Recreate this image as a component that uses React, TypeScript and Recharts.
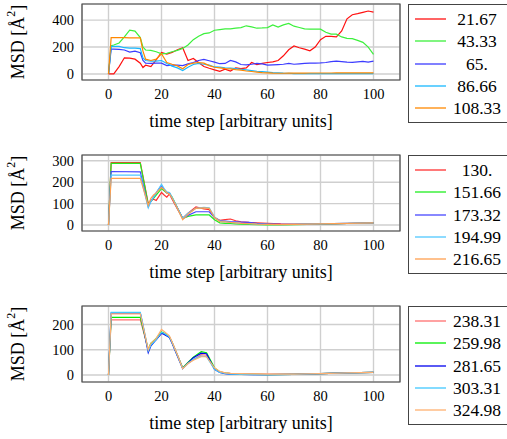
import React from "react";
import {
  LineChart, Line, XAxis, YAxis, CartesianGrid,
  ReferenceArea, Legend, Label,
} from "recharts";

const FONT = "Liberation Serif";

// ---- panel 1 ----
const steps1 = [0, 1, 2, 4, 6, 8, 10, 12, 13, 14, 16, 18, 20, 22, 24, 26, 28, 30, 32, 34, 36, 38, 40, 42, 44, 46, 48, 50, 52, 54, 56, 58, 60, 62, 64, 66, 68, 70, 72, 74, 76, 78, 80, 82, 84, 86, 88, 90, 92, 94, 96, 98, 100];
const red1 = [0, 0, 0, 55, 120, 118, 110, 80, 48, 65, 55, 105, 160, 148, 160, 180, 195, 100, 115, 85, 55, 42, 30, 20, 35, 22, 45, 40, 45, 85, 70, 78, 85, 90, 100, 135, 180, 208, 195, 185, 172, 200, 255, 280, 280, 275, 320, 410, 440, 448, 458, 468, 460];
const green1 = [0, 210, 215, 230, 275, 325, 318, 270, 200, 178, 175, 165, 150, 153, 165, 175, 190, 215, 255, 280, 300, 305, 325, 330, 335, 335, 340, 345, 358, 350, 340, 342, 345, 365, 348, 365, 375, 355, 345, 335, 333, 333, 333, 310, 296, 296, 275, 265, 262, 250, 235, 200, 145];
const blue1 = [0, 185, 185, 182, 178, 162, 170, 158, 100, 80, 78, 80, 80, 62, 66, 65, 62, 75, 85, 100, 108, 98, 88, 76, 78, 100, 90, 70, 68, 72, 78, 75, 65, 68, 70, 72, 78, 72, 75, 78, 80, 80, 82, 85, 92, 95, 92, 88, 86, 90, 93, 88, 95];
const cyan1 = [0, 205, 205, 205, 195, 192, 192, 188, 120, 100, 95, 95, 100, 78, 58, 45, 25, 50, 70, 78, 72, 65, 52, 50, 46, 44, 40, 35, 30, 25, 20, 17, 14, 10, 8, 6, 5, 3, 2, 2, 2, 2, 2, 2, 2, 2, 2, 2, 2, 3, 3, 3, 3];
const orange1 = [0, 270, 270, 270, 270, 268, 268, 268, 170, 110, 100, 110, 150, 85, 72, 60, 38, 70, 80, 85, 80, 62, 50, 45, 40, 37, 32, 28, 22, 18, 14, 10, 8, 6, 5, 5, 6, 6, 6, 6, 7, 7, 7, 7, 7, 8, 8, 8, 8, 8, 8, 8, 8];
const labels1 = ["21.67", "43.33", "65.", "86.66", "108.33"];
const colors1 = ["#ff1010", "#3cf03c", "#3c3cff", "#18b8ff", "#ff8800"];

// ---- panel 2 ----
const steps2 = [0, 1, 12, 13, 15, 16, 17, 18, 20, 21, 22, 23, 24, 26, 28, 30, 33, 36, 38, 40, 42, 44, 46, 48, 50, 53, 56, 60, 65, 70, 80, 90, 100];
const red2 = [0, 292, 292, 228, 100, 115, 120, 115, 152, 140, 130, 145, 120, 75, 32, 55, 85, 75, 72, 35, 22, 25, 28, 20, 15, 12, 10, 8, 5, 4, 4, 7, 10];
const green2 = [0, 288, 288, 224, 95, 110, 125, 140, 170, 160, 150, 148, 130, 80, 30, 40, 47, 48, 47, 25, 10, 8, 7, 5, 4, 3, 2, 1, 1, 2, 4, 7, 10];
const blue2 = [0, 250, 248, 193, 85, 110, 130, 150, 185, 165, 150, 150, 125, 80, 30, 45, 62, 62, 62, 35, 20, 18, 16, 15, 14, 12, 8, 5, 3, 3, 5, 8, 10];
const cyan2 = [0, 233, 233, 182, 80, 110, 130, 150, 190, 170, 155, 152, 130, 80, 32, 55, 78, 82, 80, 38, 18, 15, 12, 10, 8, 6, 4, 3, 2, 3, 5, 8, 10];
const orange2 = [0, 218, 218, 176, 92, 125, 140, 150, 175, 165, 150, 145, 125, 78, 25, 50, 78, 80, 78, 35, 16, 15, 12, 10, 8, 6, 4, 3, 2, 3, 5, 8, 10];
const labels2 = ["130.", "151.66", "173.32", "194.99", "216.65"];
const colors2 = ["#ff3030", "#20ee20", "#4848ff", "#50c8ff", "#ffa050"];

// ---- panel 3 ----
const steps3 = [0, 1, 12, 13, 15, 16, 18, 20, 21, 23, 24, 26, 28, 30, 32, 35, 37, 40, 42, 44, 46, 50, 55, 60, 70, 80, 90, 100];
const red3 = [0, 218, 218, 180, 100, 125, 140, 165, 165, 150, 130, 80, 28, 45, 60, 80, 78, 25, 12, 8, 6, 5, 4, 3, 3, 5, 8, 10];
const green3 = [0, 228, 228, 185, 100, 125, 145, 170, 165, 150, 128, 78, 28, 50, 70, 92, 88, 28, 12, 7, 5, 3, 2, 1, 2, 5, 8, 10];
const blue3 = [0, 245, 245, 195, 88, 115, 140, 165, 160, 148, 125, 75, 25, 48, 68, 86, 84, 22, 10, 5, 3, 2, 1, 1, 2, 5, 8, 10];
const cyan3 = [0, 248, 248, 200, 95, 118, 140, 168, 165, 150, 128, 78, 26, 45, 62, 75, 72, 22, 10, 6, 3, 2, 1, 1, 2, 5, 8, 10];
const orange3 = [0, 242, 242, 195, 100, 125, 145, 180, 172, 155, 130, 80, 25, 45, 58, 72, 72, 28, 14, 8, 6, 5, 4, 3, 3, 5, 8, 10];
const labels3 = ["238.31", "259.98", "281.65", "303.31", "324.98"];
const colors3 = ["#ff7070", "#00ee00", "#0000ee", "#40c8ff", "#ffb070"];

const xTicks = [0, 20, 40, 60, 80, 100];

const panels = [
  { steps: steps1, series: [red1, green1, blue1, cyan1, orange1], labels: labels1, colors: colors1, yDomain: [-45, 520], yTicks: [0, 200, 400] },
  { steps: steps2, series: [red2, green2, blue2, cyan2, orange2], labels: labels2, colors: colors2, yDomain: [-28, 327], yTicks: [0, 100, 200, 300] },
  { steps: steps3, series: [red3, green3, blue3, cyan3, orange3], labels: labels3, colors: colors3, yDomain: [-28, 273], yTicks: [0, 100, 200] },
];

const tickStyle = { fill: "#000", fontSize: 14.5, fontFamily: FONT, style: { fontFamily: FONT } };

function YTitle() {
  const cx = 18, cy = 42;
  return (
    <text x={cx} y={cy} transform={`rotate(-90 ${cx} ${cy})`} textAnchor="middle"
      dominantBaseline="central" fontSize={18} fill="#000" style={{ fontFamily: FONT }}>
      MSD [Å<tspan dy={-7} fontSize={12}>2</tspan><tspan dy={7}>]</tspan>
    </text>
  );
}

function XTitle() {
  return (
    <text x={241} y={127} textAnchor="middle" fontSize={18} fill="#000" style={{ fontFamily: FONT }}>
      time step [arbitrary units]
    </text>
  );
}

function LegendBox({ labels, colors }: { labels: string[]; colors: string[] }) {
  return (
    <div style={{ border: "1px solid #444", width: 110, height: 119, boxSizing: "border-box", paddingTop: 3, background: "#fff", fontFamily: FONT }}>
      {labels.map((l, i) => (
        <div key={i} style={{ position: "relative", height: 22.3 }}>
          <svg width={40} height={22} style={{ position: "absolute", left: 0, top: 0 }}>
            <line x1={6} x2={37} y1={11} y2={11} stroke={colors[i]} strokeWidth={1.3} />
          </svg>
          <div style={{ position: "absolute", left: 37, width: 62, top: 0, lineHeight: "22.3px", textAlign: "center", fontSize: 17.5, color: "#000" }}>
            {l}
          </div>
        </div>
      ))}
    </div>
  );
}

function Panel({ p }: { p: typeof panels[number] }) {
  const rows = p.steps.map((t, i) => {
    const r: Record<string, number> = { t };
    p.series.forEach((s, k) => { r["s" + k] = s[i]; });
    return r;
  });
  const [y0, y1] = p.yDomain;
  return (
    <LineChart width={507} height={151} data={rows} margin={{ top: 4, right: 107, left: 52, bottom: 15 }}>
      <CartesianGrid stroke="#cfcfcf" strokeWidth={1.4} />
      <XAxis dataKey="t" type="number" domain={[-10, 110]} ticks={xTicks} height={56} interval={0}
        tickSize={0} tickMargin={9} axisLine={false} tickLine={false} tick={tickStyle}>
        <Label content={<XTitle />} />
      </XAxis>
      <YAxis type="number" domain={p.yDomain} ticks={p.yTicks} width={30} allowDataOverflow interval={0}
        tickSize={0} tickMargin={8} axisLine={false} tickLine={false} tick={tickStyle}>
        <Label content={<YTitle />} />
      </YAxis>
      <ReferenceArea x1={-10} x2={110} y1={y0} y2={y1} fill="none" fillOpacity={0} stroke="#4a4a4a" strokeWidth={1.2} />
      {p.series.map((_, k) => (
        <Line key={k} dataKey={"s" + k} name={p.labels[k]} type="linear" stroke={p.colors[k]}
          strokeWidth={1.2} dot={false} isAnimationActive={false} />
      ))}
      <Legend layout="vertical" align="center" verticalAlign="middle"
        wrapperStyle={{ left: 408, top: 4, width: 110, height: 119 }}
        content={<LegendBox labels={p.labels} colors={p.colors} />} />
    </LineChart>
  );
}

export default function App() {
  return (
    <div style={{ position: "absolute", left: 0, top: 0, width: 507, height: 439, overflow: "hidden", background: "#fff", fontFamily: FONT }}>
      {panels.map((p, i) => (
        <div key={i} style={{ position: "absolute", left: 0, top: i * 151 }}>
          <Panel p={p} />
        </div>
      ))}
    </div>
  );
}
